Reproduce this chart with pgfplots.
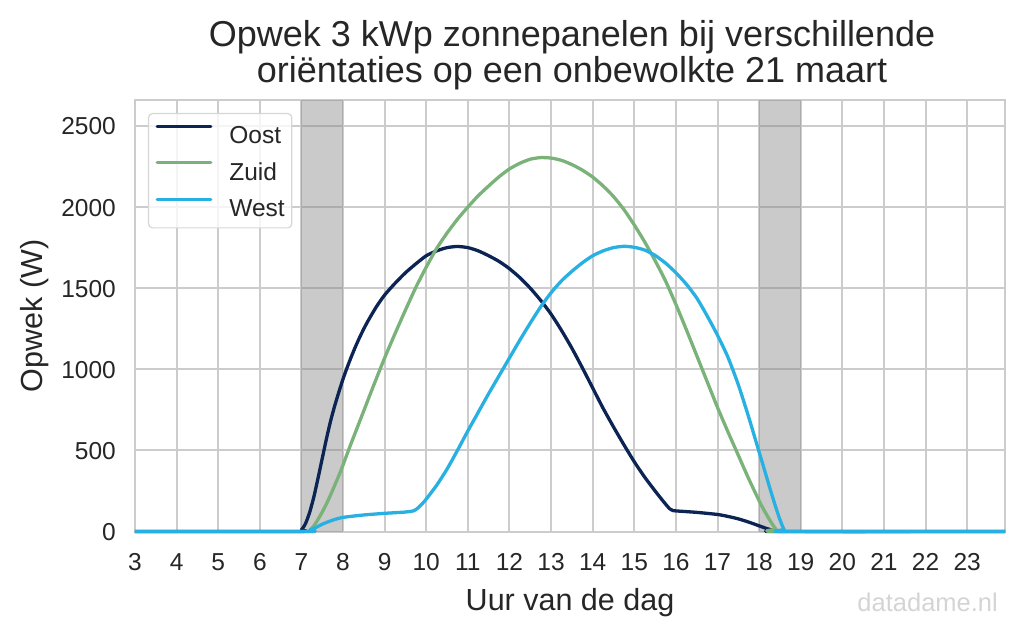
\documentclass[border=0pt]{standalone}
\usepackage{fontspec}
\setmainfont{Liberation Sans}
\usepackage{pgfplots}
\pgfplotsset{compat=1.18}
\definecolor{oost}{HTML}{0C2454}
\definecolor{zuid}{HTML}{7AB27A}
\definecolor{west}{HTML}{29B0E2}
\definecolor{gridc}{HTML}{CCCCCC}
\definecolor{textc}{HTML}{262626}
\definecolor{wm}{HTML}{D4D4D4}
\begin{document}
\begin{tikzpicture}
\useasboundingbox (-135pt,-103.5pt) rectangle (889pt,531.5pt);
\begin{axis}[
  at={(0pt,0pt)}, anchor=south west,
  scale only axis, width=870pt, height=431.5pt,
  xmin=3, xmax=23.91, ymin=0, ymax=2660,
  clip=false,
  xtick={3,4,...,23},
  ytick={0,500,1000,1500,2000,2500},
  yticklabels={0,500,1000,1500,2000,2500},
  /pgf/number format/assume math mode=true,
  major tick length=0pt,
  grid=major,
  major grid style={draw=gridc, line width=2pt},
  axis line style={draw=gridc, line width=2pt},
  xticklabel style={font=\fontsize{24.5}{29}\selectfont, text=textc, anchor=base, yshift=-38.5pt, inner sep=0pt},
  yticklabel style={font=\fontsize{24.5}{29}\selectfont, text=textc, anchor=base east, xshift=-19pt, yshift=-9pt, inner sep=0pt},
  legend cell align=left,
  legend style={at={(0,1)}, anchor=north west, xshift=13pt, yshift=-13pt,
    draw=gridc!80, line width=1.2pt, rounded corners=4pt, fill=white, fill opacity=0.8, text opacity=1,
    font=\fontsize{24.5}{29}\selectfont, text=textc,
    inner xsep=7pt, inner ysep=11pt, row sep=17.4pt, column sep=17pt,
    nodes={inner sep=0pt, text height=18pt, text depth=0pt}},
  legend image code/.code={\draw[#1, line width=3.3pt, line cap=round] (1.5pt,8.5pt) -- (55pt,8.5pt);},
]
% dark bands
\addplot[forget plot, draw=none, fill=gray, fill opacity=0.42] coordinates {(7,0) (8,0) (8,2660) (7,2660)} -- cycle;
\addplot[forget plot, draw=none, fill=gray, fill opacity=0.42] coordinates {(18,0) (19,0) (19,2660) (18,2660)} -- cycle;
% Oost
\addplot[oost, line width=3.3pt, line join=round, smooth, tension=0.4] coordinates {
(3,0) (6.9,0) (7.0,10) (7.1,50) (7.2,120) (7.3,215) (7.4,330) (7.5,450) (7.6,570) (7.7,680) (7.8,775) (7.9,860) (8.0,940)
(8.1,1012) (8.2,1078) (8.3,1140) (8.4,1197) (8.5,1250) (8.6,1298) (8.8,1385) (9.0,1458) (9.25,1530) (9.5,1595)
(9.75,1650) (10.0,1700) (10.25,1730)
(10.5,1750) (10.75,1757) (11.0,1750) (11.25,1730) (11.5,1700) (11.75,1665) (12.0,1620) (12.25,1565) (12.5,1500)
(12.75,1425) (13.0,1340) (13.25,1240) (13.5,1130) (13.75,1010) (14.0,885) (14.25,760) (14.5,645) (14.75,535)
(15.0,430) (15.25,335) (15.5,250) (15.7,185) (15.85,140) (15.92,130) (16.0,127) (16.5,118) (17.0,105) (17.25,93)
(17.5,78) (17.75,58) (18.0,35) (18.2,17) (18.35,6) (18.45,0) (23.91,0)};
\addlegendentry{Oost}
% Zuid
\addplot[zuid, line width=3.3pt, line join=round, smooth, tension=0.4] coordinates {
(3,0) (7.1,0) (7.2,8) (7.3,35) (7.4,75) (7.5,120) (7.6,170) (7.7,225) (7.8,285) (7.9,345) (8.0,410) (8.13,500)
(8.25,580) (8.5,745) (8.75,910) (9.0,1070) (9.25,1220) (9.5,1365) (9.75,1505) (10.0,1630) (10.25,1745) (10.5,1840)
(10.75,1925) (11.0,2000) (11.25,2070) (11.5,2130) (11.75,2187) (12.0,2235) (12.25,2270) (12.5,2295) (12.75,2305)
(13.0,2302) (13.25,2288) (13.5,2262) (13.75,2228) (14.0,2185) (14.25,2130) (14.5,2065) (14.75,1985) (15.0,1890)
(15.25,1785) (15.5,1670) (15.75,1545) (16.0,1400) (16.25,1245) (16.5,1085) (16.75,925) (17.0,765) (17.25,615)
(17.5,470) (17.75,325) (18.0,190) (18.1,140) (18.2,95) (18.3,52) (18.4,15) (18.47,0) (23.91,0)};
\addlegendentry{Zuid}
% West
\addplot[west, line width=3.3pt, line join=round, smooth, tension=0.4] coordinates {
(3,0) (7.1,0) (7.2,8) (7.35,25) (7.5,45) (7.75,70) (8.0,87) (8.5,102) (9.0,112) (9.5,120) (9.7,128) (9.8,145)
(9.9,170) (10.0,200) (10.25,285) (10.5,385) (10.75,500) (11.0,620) (11.25,735) (11.5,850) (11.75,960) (12.0,1070)
(12.25,1180) (12.5,1285) (12.75,1385) (13.0,1472) (13.25,1545) (13.5,1604) (13.75,1656) (14.0,1700) (14.25,1730)
(14.5,1750) (14.75,1758) (15.0,1752) (15.25,1735) (15.5,1702) (15.75,1655) (16.0,1595) (16.25,1525) (16.5,1440)
(16.75,1330) (17.0,1210) (17.25,1075) (17.5,905) (17.75,705) (18.0,490) (18.1,405) (18.2,318) (18.3,232)
(18.4,150) (18.48,88) (18.55,40) (18.6,12) (18.65,0) (23.91,0)};
\addlegendentry{West}
\end{axis}
\node[anchor=base, text=textc, font=\fontsize{36}{40}\selectfont] at (437pt,484.8pt) {Opwek 3 kWp zonnepanelen bij verschillende};
\node[anchor=base, text=textc, font=\fontsize{36}{40}\selectfont] at (437pt,448.5pt) {oriëntaties op een onbewolkte 21 maart};
\node[anchor=base, text=textc, font=\fontsize{30.5}{34}\selectfont] at (435pt,-78.5pt) {Uur van de dag};
\node[anchor=base, rotate=90, text=textc, font=\fontsize{30.5}{34}\selectfont] at (-92pt,215.75pt) {Opwek (W)};
\node[anchor=base east, text=wm, font=\fontsize{25.5}{29}\selectfont, inner sep=0pt] at (863pt,-79.5pt) {datadame.nl};
\end{tikzpicture}
\end{document}
